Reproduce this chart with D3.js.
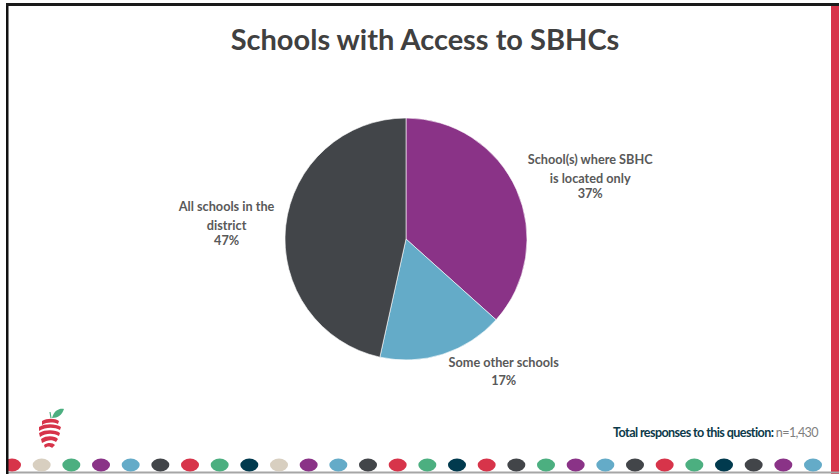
<!DOCTYPE html>
<html><head><meta charset="utf-8">
<script src="https://cdn.jsdelivr.net/npm/d3@7"></script>
<style>html,body{margin:0;padding:0;background:#fff;}svg{display:block;}</style>
</head><body>
<svg id="chart" width="839" height="474"></svg>
<script>
const title = "Schools with Access to SBHCs";
const categories = ["School(s) where SBHC is located only", "Some other schools", "All schools in the district"];
const labelLines = [["School(s) where SBHC", "is located only"], ["Some other schools"], ["All schools in the", "district"]];
const values = [37, 17, 47];
const sliceColors = ["#8a3387", "#64abc8", "#424549"];
const footBold = "Total responses to this question:";
const footN = "n=1,430";
const dotColors = ["#d7344a","#d8cfc0","#4caf80","#8a3387","#64abc8","#424549","#d7344a","#4caf80","#013a4e","#d8cfc0","#8a3387","#64abc8","#424549","#d7344a","#4caf80","#013a4e","#d7344a","#424549","#4caf80","#8a3387","#64abc8","#424549","#d7344a","#4caf80","#013a4e","#424549","#8a3387","#64abc8"];

const svg = d3.select("#chart");
const W = 839, H = 474;

// frame
svg.append("rect").attr("x",0).attr("y",0).attr("width",W).attr("height",H).attr("fill","#fff");
svg.append("rect").attr("x",831).attr("y",5).attr("width",8).attr("height",H-5).attr("fill","#d7344a");
svg.append("line").attr("x1",0).attr("x2",W).attr("y1",H-1.5).attr("y2",H-1.5).attr("stroke","#a6a6a6").attr("stroke-width",2);

// dots
const dotX = d3.scaleLinear().domain([0, dotColors.length-1]).range([12, 813]);
svg.append("g").selectAll("ellipse").data(dotColors).join("ellipse")
  .attr("cx",(d,i)=>dotX(i)).attr("cy",465).attr("rx",9).attr("ry",6.5).attr("fill",d=>d);

svg.append("rect").attr("x",0).attr("y",0).attr("width",7).attr("height",H).attr("fill","#fff");
svg.append("rect").attr("x",6).attr("y",3).attr("width",2.5).attr("height",H-3).attr("fill","#111");
svg.append("rect").attr("x",6).attr("y",3).attr("width",W-6).attr("height",3).attr("fill","#1a1a1a");

// title
svg.append("text").attr("x",425).attr("y",50).attr("text-anchor","middle")
  .attr("font-family","Lato, 'Open Sans', sans-serif").attr("font-weight",700).attr("font-size",29)
  .attr("fill","#404040").text(title);

// pie
const cx = 406, cy = 239, R = 121;
const pie = d3.pie().sort(null).value(d=>d);
const arcs = pie(values);
const arc = d3.arc().innerRadius(0).outerRadius(R);
const g = svg.append("g").attr("transform",`translate(${cx},${cy})`);
g.selectAll("path").data(arcs).join("path")
  .attr("d",arc).attr("fill",(d,i)=>sliceColors[i]).attr("stroke","#fff").attr("stroke-width",0.6);

// labels
const pct = d3.format(".0%");
const labelArc = d3.arc().innerRadius(R*1.45).outerRadius(R*1.45);
const adjust = [[24,-3],[44,-39],[-5,-9]];
arcs.forEach((a,i)=>{
  const [lx,ly] = labelArc.centroid(a);
  const t = g.append("text").attr("text-anchor","middle")
    .attr("font-family","Lato, 'Open Sans', sans-serif").attr("font-weight",700).attr("font-size",12.7)
    .attr("fill","#595959")
    .attr("transform",`translate(${lx+adjust[i][0]},${ly+adjust[i][1]})`);
  const lines = labelLines[i];
  lines.forEach((s,j)=>{
    t.append("tspan").attr("x",0).attr("y", j*19).text(s);
  });
  const lastY = (lines.length-1)*19 + (lines.length>1 ? 15 : 18);
  t.append("tspan").attr("x",0).attr("y",lastY).text(pct(values[i]/100));
});

// footnote
const ft = svg.append("text").attr("x",818).attr("y",437).attr("text-anchor","end")
  .attr("font-family","Lato, sans-serif").attr("font-size",12.6).attr("letter-spacing",-0.6);
ft.append("tspan").attr("font-weight",700).attr("fill","#0d3a4a").text(footBold + " ");
ft.append("tspan").attr("font-weight",400).attr("fill","#7f7f7f").text(footN);

// logo (apple)
const logo = svg.append("g").attr("transform","translate(50,428)");
logo.append("path").attr("d","M2,-10 C4,-18 10,-20 14,-19 C12,-13 8,-10 2,-10 Z").attr("fill","#4caf80");
logo.append("path").attr("d","M1,-10 L0,-16").attr("stroke","#4caf80").attr("stroke-width",1.2);
const bands = [
  "M-8,-7 C-3,-10 5,-10 9,-7 L8,-4 C3,-6 -3,-6 -8,-3 Z",
  "M-11,-1 C-4,-5 6,-4 11,-1 L10,2 C4,-1 -4,-1 -11,3 Z",
  "M-11,5 C-4,1 6,2 10,5 L9,8 C3,5 -4,5 -10,9 Z",
  "M-9,11 C-3,7 5,8 8,11 L6,14 C2,11 -3,12 -8,15 Z",
  "M-6,17 C-2,14 3,15 5,17 L2,20 C0,18 -3,18 -5,20 Z"
];
logo.selectAll("path.b").data(bands).join("path").attr("class","b").attr("d",d=>d).attr("fill","#d7344a");
</script>
</body></html>
